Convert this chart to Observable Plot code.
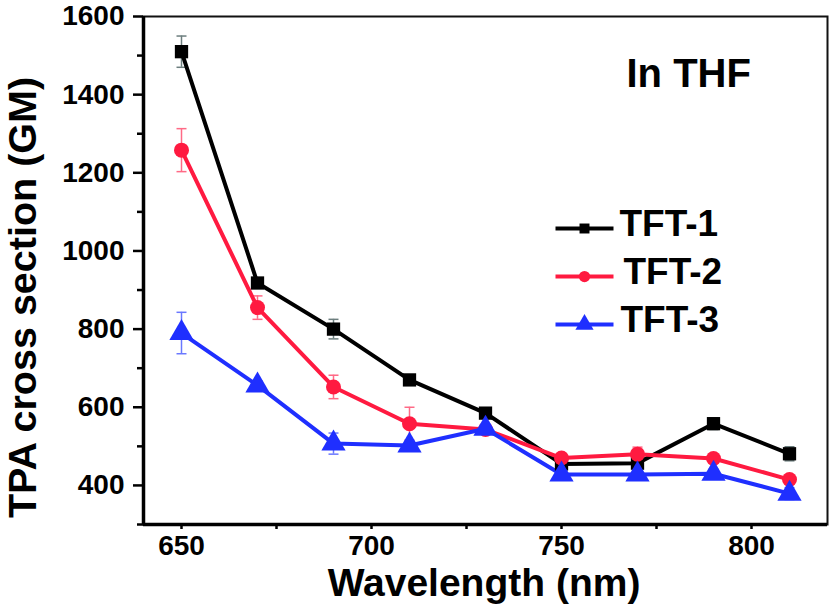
<!DOCTYPE html>
<html>
<head>
<meta charset="utf-8">
<script src="https://cdn.jsdelivr.net/npm/d3@7"></script>
<script src="https://cdn.jsdelivr.net/npm/@observablehq/plot@0.6"></script>
<style>
  html, body { margin: 0; padding: 0; background: white; }
</style>
</head>
<body>
<div id="chart"></div>
<script>
// ---- data ----
const wavelengths = [650, 670, 690, 710, 730, 750, 770, 790, 810];
const seriesNames = ["TFT-1", "TFT-2", "TFT-3"];
const tft1 = [1510, 918, 800, 670, 585, 455, 457, 558, 481];
const tft1Err = [40, 10, 25, 10, 8, 10, 10, 15, 18];
const tft2 = [1258, 855, 652, 558, 543, 470, 480, 469, 415];
const tft2Err = [55, 30, 30, 42, 10, 8, 18, 8, 8];
const tft3 = [790, 656, 507, 502, 545, 428, 428, 430, 379];
const tft3Err = [53, 12, 27, 10, 12, 12, 12, 12, 15];
const yMajorTicks = [400, 600, 800, 1000, 1200, 1400, 1600];
const yMinorTicks = [300, 500, 700, 900, 1100, 1300, 1500];
const xMajorTicks = [650, 700, 750, 800];
const xMinorTicks = [675, 725, 775];

const lineColors = ["#000000", "#ff1a40", "#1f2fff"];
const errColors = ["#6c7e7e", "#ff6a86", "#6a78ff"];
const symbols = ["square", "circle", "triangle"];
const symR = [7.5, 7.5, 9];

const values = [tft1, tft2, tft3];
const errors = [tft1Err, tft2Err, tft3Err];

const seriesRows = seriesNames.map((name, i) =>
  wavelengths.map((wl, j) => ({ series: name, wl, v: values[i][j], e: errors[i][j] }))
);

// custom symbols
const capSymbol = { draw(ctx) { ctx.moveTo(-5, 0); ctx.lineTo(5, 0); } };
const legendLine = { draw(ctx) { ctx.moveTo(-29, 0); ctx.lineTo(29, 0); } };

const font = "'Liberation Sans', Arial, sans-serif";
const marks = [];

// axes
marks.push(Plot.axisY({ ticks: yMajorTicks, tickFormat: d => String(d), tickSize: 10, tickPadding: 9, fontSize: 28, fontWeight: "bold", strokeWidth: 2.5, label: null }));
marks.push(Plot.axisY({ ticks: yMinorTicks, tickSize: 6, tickFormat: () => "", strokeWidth: 2.5, label: null }));
marks.push(Plot.axisX({ ticks: xMajorTicks, tickFormat: d => String(d), tickSize: 5, tickPadding: 6, fontSize: 28, fontWeight: "bold", strokeWidth: 2.5, label: null }));
marks.push(Plot.axisX({ ticks: xMinorTicks, tickSize: 5, tickFormat: () => "", strokeWidth: 2.5, label: null }));

// frame
marks.push(Plot.frame({ stroke: "#111", strokeWidth: 2 }));
marks.push(Plot.ruleX([640], { strokeWidth: 3.5, stroke: "#000" }));
marks.push(Plot.ruleY([300], { strokeWidth: 3.5, stroke: "#000" }));

// series
seriesRows.forEach((rows, i) => {
  marks.push(Plot.ruleX(rows, { x: "wl", y1: d => d.v - d.e, y2: d => d.v + d.e, stroke: errColors[i], strokeWidth: 1.5 }));
  marks.push(Plot.dot(rows, { x: "wl", y: d => d.v + d.e, symbol: capSymbol, fill: "none", stroke: errColors[i], strokeWidth: 1.5 }));
  marks.push(Plot.dot(rows, { x: "wl", y: d => d.v - d.e, symbol: capSymbol, fill: "none", stroke: errColors[i], strokeWidth: 1.5 }));
});
seriesRows.forEach((rows, i) => {
  marks.push(Plot.line(rows, { x: "wl", y: "v", stroke: lineColors[i], strokeWidth: 4 }));
});
seriesRows.forEach((rows, i) => {
  marks.push(Plot.dot(rows, { x: "wl", y: "v", symbol: symbols[i], r: symR[i], fill: lineColors[i], stroke: "none" }));
});

// legend (inside frame)
const legendDy = [212, 260, 308];
const legendTextDx = [476, 480, 477];
seriesNames.forEach((name, i) => {
  marks.push(Plot.dot([0], { frameAnchor: "top-left", dx: 441, dy: legendDy[i], symbol: legendLine, fill: "none", stroke: lineColors[i], strokeWidth: 4 }));
  marks.push(Plot.dot([0], { frameAnchor: "top-left", dx: 441, dy: legendDy[i], symbol: symbols[i], r: symR[i] * 0.75, fill: lineColors[i], stroke: "none" }));
  marks.push(Plot.text([name], { frameAnchor: "top-left", dx: legendTextDx[i], dy: legendDy[i] - 4.5, text: d => d, textAnchor: "start", lineAnchor: "middle", fontSize: 37, fontWeight: "bold", fill: "#000" }));
});

// annotation
marks.push(Plot.text(["In THF"], { frameAnchor: "top-left", dx: 483, dy: 58, text: d => d, textAnchor: "start", lineAnchor: "middle", fontSize: 40, fontWeight: "bold", fill: "#000" }));

// axis titles
marks.push(Plot.text(["Wavelength (nm)"], { frameAnchor: "bottom", dx: -1.5, dy: 59.5, text: d => d, textAnchor: "middle", lineAnchor: "middle", fontSize: 39, fontWeight: "bold", fill: "#000" }));
marks.push(Plot.text(["TPA cross section (GM)"], { frameAnchor: "left", dx: -120, dy: 27, rotate: -90, text: d => d, textAnchor: "middle", lineAnchor: "middle", fontSize: 39.5, fontWeight: "bold", fill: "#000" }));

const chart = Plot.plot({
  width: 832,
  height: 605,
  marginLeft: 143,
  marginRight: 5,
  marginTop: 16,
  marginBottom: 81,
  x: { domain: [640, 820] },
  y: { domain: [300, 1600] },
  style: { fontFamily: font, fontWeight: "bold", background: "white", color: "#000", overflow: "visible" },
  marks
});
document.getElementById("chart").appendChild(chart);
</script>
</body>
</html>
